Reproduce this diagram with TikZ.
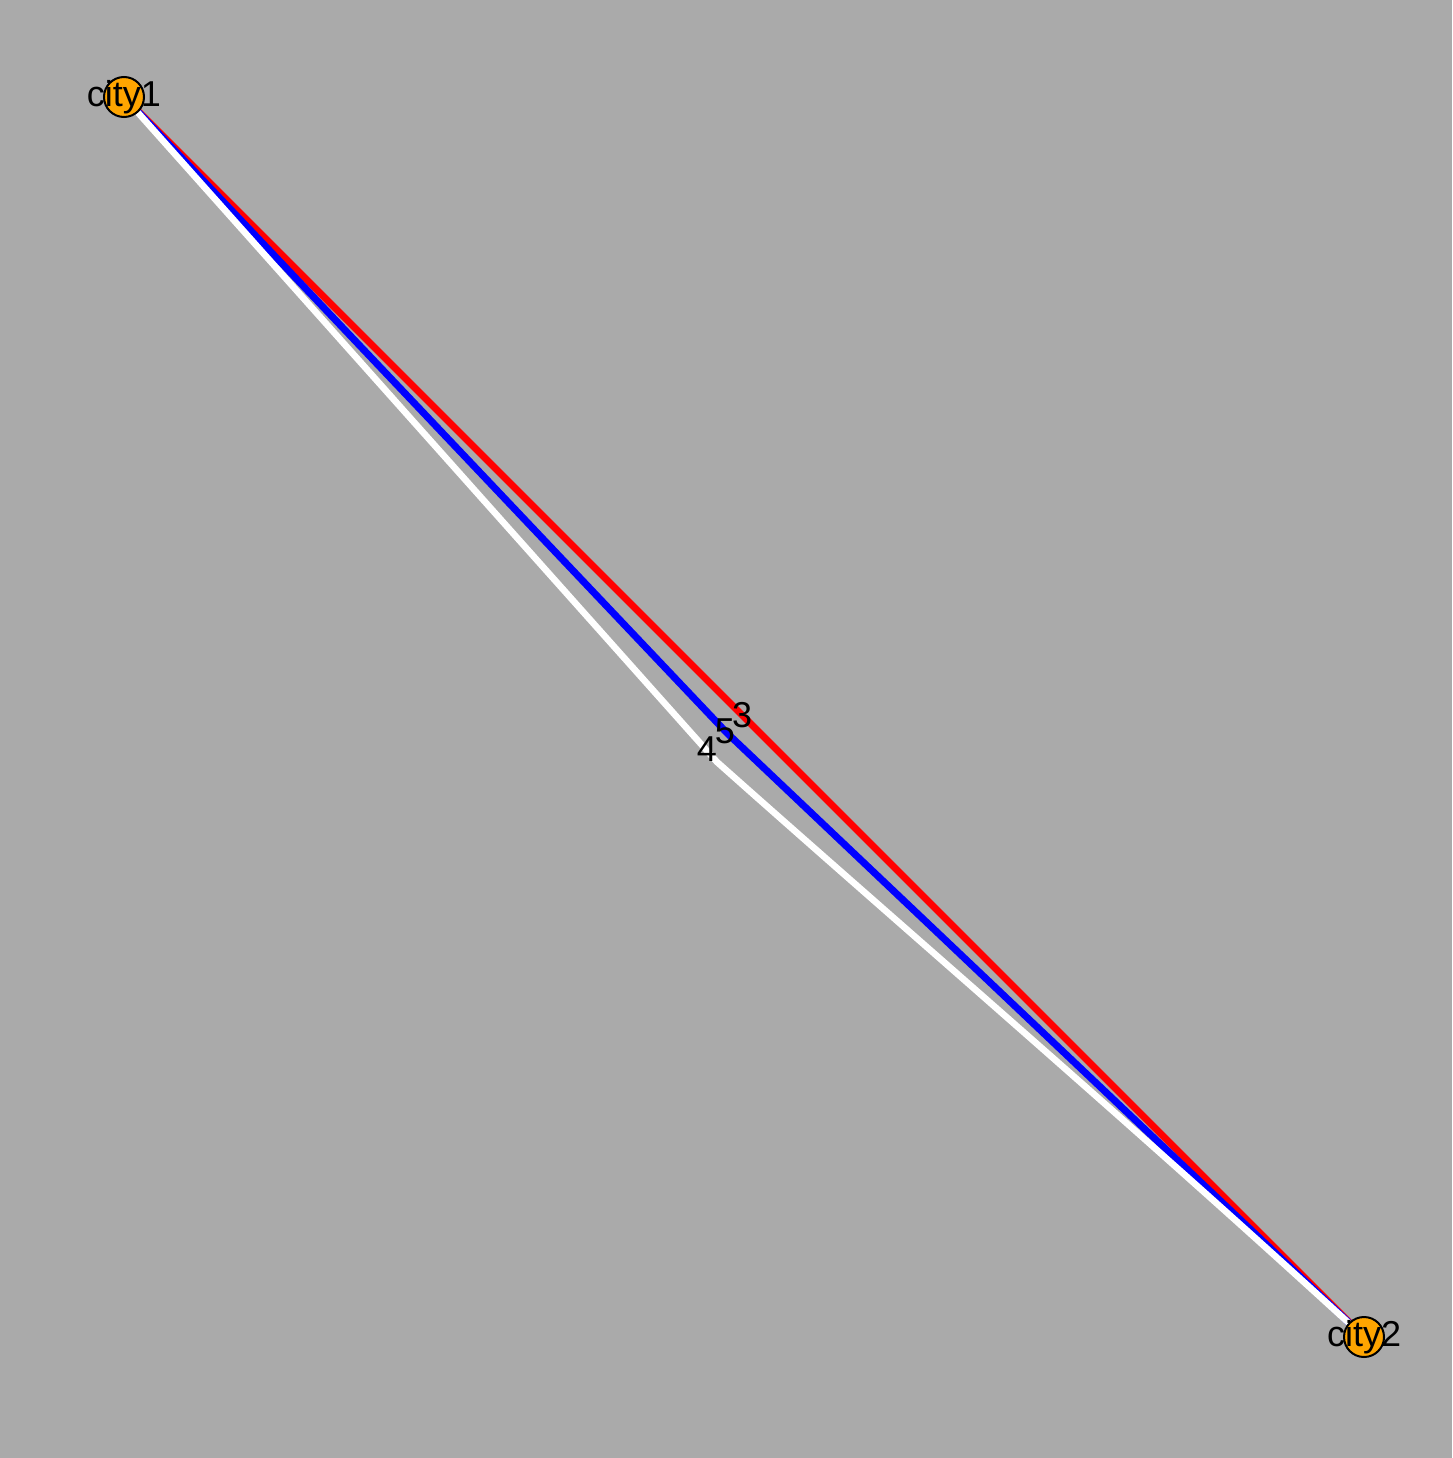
\documentclass[tikz,border=0pt]{standalone}
\usepackage{fontspec}
\setmainfont{Liberation Sans}
\definecolor{bg}{HTML}{AAAAAA}
\definecolor{nodeorange}{HTML}{FFA500}
\begin{document}
\begin{tikzpicture}[x=1pt,y=-1pt,
  city/.style={circle,draw=black,line width=2pt,fill=nodeorange,minimum size=40pt,inner sep=0pt},
  citylabel/.style={font=\fontsize{36}{36}\selectfont,text=black,inner sep=0pt},
  edgelabel/.style={font=\fontsize{36}{36}\selectfont,text=black,inner sep=0pt},
  rededge/.style={draw=red,line width=7pt},
  blueedge/.style={draw=blue,line width=7pt},
  whiteedge/.style={draw=white,line width=6.5pt}]
\fill[bg] (0,0) rectangle (1452,1458);
\useasboundingbox (0,0) rectangle (1452,1458);
\coordinate (c1) at (124,97);
\coordinate (c2) at (1364,1337);
\coordinate (m4) at (717,762);
\coordinate (m5) at (727,733);
% edges
\draw[rededge] (c1) -- (c2);
\draw[blueedge] (c1) -- (m5) -- (c2);
\draw[whiteedge] (c1) -- (m4) .. controls (900,925) and (1150,1140) .. (c2);
% nodes
\node[city] (city1) at (c1) {};
\node[city] (city2) at (c2) {};
\node[citylabel] (l1) at (c1) {city1};
\node[citylabel] (l2) at (c2) {city2};
% edge labels
\node[edgelabel] (e3) at (742,715) {3};
\node[edgelabel] (e5) at (725,731) {5};
\node[edgelabel] (e4) at (707,749) {4};
\end{tikzpicture}
\end{document}
